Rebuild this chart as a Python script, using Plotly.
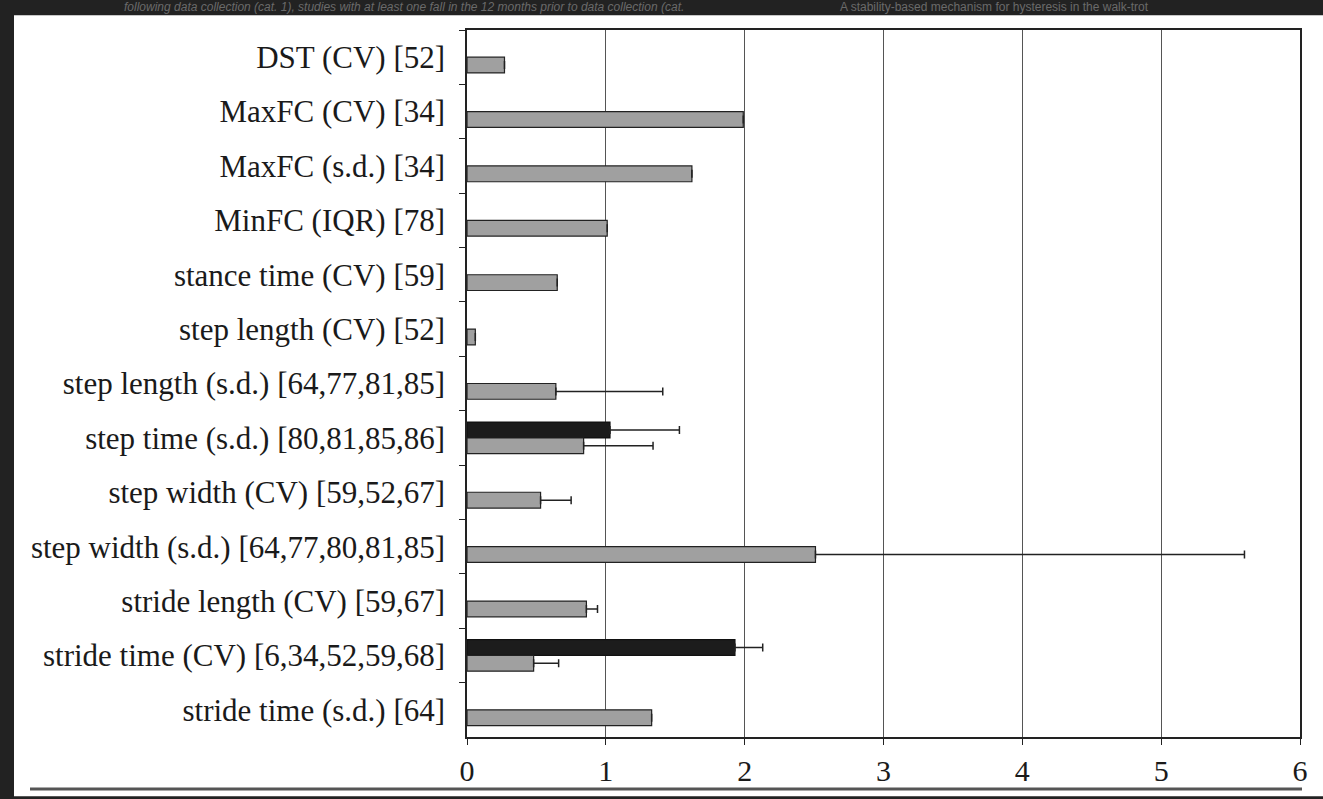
import plotly.graph_objects as go

categories = [
    "DST (CV) [52]",
    "MaxFC (CV) [34]",
    "MaxFC (s.d.) [34]",
    "MinFC (IQR) [78]",
    "stance time (CV) [59]",
    "step length (CV) [52]",
    "step length (s.d.) [64,77,81,85]",
    "step time (s.d.) [80,81,85,86]",
    "step width (CV) [59,52,67]",
    "step width (s.d.) [64,77,80,81,85]",
    "stride length (CV) [59,67]",
    "stride time (CV) [6,34,52,59,68]",
    "stride time (s.d.) [64]",
]

gray_values = [0.27, 1.99, 1.62, 1.01, 0.65, 0.06, 0.64, 0.84, 0.53, 2.51, 0.86, 0.48, 1.33]
gray_err_plus = [0, 0, 0, 0, 0, 0, 0.77, 0.50, 0.22, 3.09, 0.08, 0.18, 0]

black_values = [None, None, None, None, None, None, None, 1.03, None, None, None, 1.93, None]
black_err_plus = [0, 0, 0, 0, 0, 0, 0, 0.50, 0, 0, 0, 0.20, 0]

x_ticks = [0, 1, 2, 3, 4, 5, 6]

W, H = 1323, 799
L, R, T, B = 467, 23, 30, 54
pw = W - L - R
ph = H - T - B


def px(x):
    return (x - L) / pw


def py(y):
    return (H - B - y) / ph


fig = go.Figure()

fig.add_trace(go.Bar(
    y=categories,
    x=black_values,
    orientation="h",
    marker=dict(color="#1c1c1c", line=dict(color="#111111", width=1.2)),
    error_x=dict(type="data", symmetric=False,
                 array=black_err_plus, arrayminus=[0] * len(categories),
                 color="#222222", thickness=1.5, width=4),
    showlegend=False,
))

fig.add_trace(go.Bar(
    y=categories,
    x=gray_values,
    orientation="h",
    marker=dict(color="#a0a0a0", line=dict(color="#222222", width=1.2)),
    error_x=dict(type="data", symmetric=False,
                 array=gray_err_plus,
                 arrayminus=[0] * len(categories),
                 color="#222222", thickness=1.5, width=4),
    showlegend=False,
))

shapes = [
    # white card
    dict(type="rect", xref="paper", yref="paper", layer="below",
         x0=px(14), x1=px(1330), y0=py(805), y1=py(15),
         fillcolor="white", line=dict(width=0)),
    # bottom grey rule
    dict(type="line", xref="paper", yref="paper",
         x0=px(30), x1=px(1302), y0=py(797.5), y1=py(797.5),
         line=dict(color="#555555", width=3)),
]

annotations = [
    dict(text="<i>following data collection (cat. 1), studies with at least one fall in the 12 months prior to data collection (cat.</i>",
         xref="paper", yref="paper", x=px(122), y=py(7), xanchor="left", yanchor="middle",
         showarrow=False, font=dict(family="Liberation Sans", size=12, color="#6a6a6a")),
    dict(text="A stability-based mechanism for hysteresis in the walk-trot",
         xref="paper", yref="paper", x=px(838), y=py(7), xanchor="left", yanchor="middle",
         showarrow=False, font=dict(family="Liberation Sans", size=12, color="#6a6a6a")),
]

fig.update_layout(
    width=W, height=H,
    margin=dict(l=L, r=R, t=T, b=B, pad=0),
    paper_bgcolor="#222222",
    plot_bgcolor="white",
    barmode="group",
    bargap=0.42,
    bargroupgap=0,
    shapes=shapes,
    annotations=annotations,
    font=dict(family="Liberation Serif", color="#1a1a1a"),
    xaxis=dict(
        range=[0, 6],
        tickvals=x_ticks,
        ticktext=[str(t) for t in x_ticks],
        showgrid=True, gridcolor="#555555", gridwidth=1,
        showline=True, linecolor="#222222", linewidth=1.5, mirror=True,
        ticks="outside", ticklen=6, tickcolor="#222222", tickwidth=1,
        tickfont=dict(family="Liberation Serif", size=30, color="#1a1a1a"),
        zeroline=False,
        fixedrange=True,
    ),
    yaxis=dict(
        autorange="reversed",
        type="category",
        showline=True, linecolor="#222222", linewidth=1.5, mirror=True,
        ticks="outside", ticklen=6, tickcolor="#222222", tickwidth=1,
        tickson="boundaries",
        ticklabelstandoff=14,
        showgrid=False,
        tickfont=dict(family="Liberation Serif", size=31, color="#1a1a1a"),
        fixedrange=True,
    ),
)

fig.write_html(
    "out.html",
    config={"displayModeBar": False},
    post_script="document.body.style.margin='0';document.body.style.padding='0';"
                "document.body.style.background='#222222';"
                "document.documentElement.style.overflow='hidden';",
)
